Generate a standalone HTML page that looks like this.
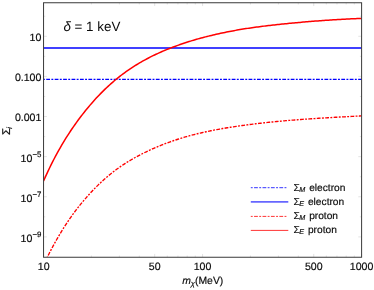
<!DOCTYPE html>
<html><head><meta charset="utf-8"><title>plot</title>
<style>
html,body{margin:0;padding:0;background:#fff;}
body{width:374px;height:290px;overflow:hidden;font-family:"Liberation Sans",sans-serif;}
svg{display:block;}
svg{will-change:transform;}
text{font-family:"Liberation Sans",sans-serif;fill:#0a0a0a;stroke:#0a0a0a;stroke-width:0.16px;stroke-linejoin:round;text-rendering:geometricPrecision;}
</style></head><body>
<svg width="374" height="290" viewBox="0 0 374 290">
<rect width="374" height="290" fill="#fff"/>
<g stroke="#dcdcdc" stroke-width="0.8" fill="none">
<line x1="43.55" y1="257.25" x2="43.55" y2="253.95"/>
<line x1="43.55" y1="2.75" x2="43.55" y2="6.05"/>
<line x1="91.42" y1="257.25" x2="91.42" y2="255.55"/>
<line x1="91.42" y1="2.75" x2="91.42" y2="4.45"/>
<line x1="119.42" y1="257.25" x2="119.42" y2="255.55"/>
<line x1="119.42" y1="2.75" x2="119.42" y2="4.45"/>
<line x1="139.29" y1="257.25" x2="139.29" y2="255.55"/>
<line x1="139.29" y1="2.75" x2="139.29" y2="4.45"/>
<line x1="154.70" y1="257.25" x2="154.70" y2="253.95"/>
<line x1="154.70" y1="2.75" x2="154.70" y2="6.05"/>
<line x1="167.30" y1="257.25" x2="167.30" y2="255.55"/>
<line x1="167.30" y1="2.75" x2="167.30" y2="4.45"/>
<line x1="177.94" y1="257.25" x2="177.94" y2="255.55"/>
<line x1="177.94" y1="2.75" x2="177.94" y2="4.45"/>
<line x1="187.16" y1="257.25" x2="187.16" y2="255.55"/>
<line x1="187.16" y1="2.75" x2="187.16" y2="4.45"/>
<line x1="195.30" y1="257.25" x2="195.30" y2="255.55"/>
<line x1="195.30" y1="2.75" x2="195.30" y2="4.45"/>
<line x1="202.57" y1="257.25" x2="202.57" y2="253.95"/>
<line x1="202.57" y1="2.75" x2="202.57" y2="6.05"/>
<line x1="250.45" y1="257.25" x2="250.45" y2="255.55"/>
<line x1="250.45" y1="2.75" x2="250.45" y2="4.45"/>
<line x1="278.45" y1="257.25" x2="278.45" y2="255.55"/>
<line x1="278.45" y1="2.75" x2="278.45" y2="4.45"/>
<line x1="298.32" y1="257.25" x2="298.32" y2="255.55"/>
<line x1="298.32" y1="2.75" x2="298.32" y2="4.45"/>
<line x1="313.73" y1="257.25" x2="313.73" y2="253.95"/>
<line x1="313.73" y1="2.75" x2="313.73" y2="6.05"/>
<line x1="326.32" y1="257.25" x2="326.32" y2="255.55"/>
<line x1="326.32" y1="2.75" x2="326.32" y2="4.45"/>
<line x1="336.97" y1="257.25" x2="336.97" y2="255.55"/>
<line x1="336.97" y1="2.75" x2="336.97" y2="4.45"/>
<line x1="346.19" y1="257.25" x2="346.19" y2="255.55"/>
<line x1="346.19" y1="2.75" x2="346.19" y2="4.45"/>
<line x1="354.32" y1="257.25" x2="354.32" y2="255.55"/>
<line x1="354.32" y1="2.75" x2="354.32" y2="4.45"/>
<line x1="361.60" y1="257.25" x2="361.60" y2="253.95"/>
<line x1="361.60" y1="2.75" x2="361.60" y2="6.05"/>
<line x1="43.55" y1="236.90" x2="46.849999999999994" y2="236.90"/>
<line x1="361.6" y1="236.90" x2="358.3" y2="236.90"/>
<line x1="43.55" y1="216.84" x2="45.25" y2="216.84"/>
<line x1="361.6" y1="216.84" x2="359.90000000000003" y2="216.84"/>
<line x1="43.55" y1="196.78" x2="46.849999999999994" y2="196.78"/>
<line x1="361.6" y1="196.78" x2="358.3" y2="196.78"/>
<line x1="43.55" y1="176.72" x2="45.25" y2="176.72"/>
<line x1="361.6" y1="176.72" x2="359.90000000000003" y2="176.72"/>
<line x1="43.55" y1="156.66" x2="46.849999999999994" y2="156.66"/>
<line x1="361.6" y1="156.66" x2="358.3" y2="156.66"/>
<line x1="43.55" y1="136.60" x2="45.25" y2="136.60"/>
<line x1="361.6" y1="136.60" x2="359.90000000000003" y2="136.60"/>
<line x1="43.55" y1="116.54" x2="46.849999999999994" y2="116.54"/>
<line x1="361.6" y1="116.54" x2="358.3" y2="116.54"/>
<line x1="43.55" y1="96.48" x2="45.25" y2="96.48"/>
<line x1="361.6" y1="96.48" x2="359.90000000000003" y2="96.48"/>
<line x1="43.55" y1="76.42" x2="46.849999999999994" y2="76.42"/>
<line x1="361.6" y1="76.42" x2="358.3" y2="76.42"/>
<line x1="43.55" y1="56.36" x2="45.25" y2="56.36"/>
<line x1="361.6" y1="56.36" x2="359.90000000000003" y2="56.36"/>
<line x1="43.55" y1="36.30" x2="46.849999999999994" y2="36.30"/>
<line x1="361.6" y1="36.30" x2="358.3" y2="36.30"/>
<line x1="43.55" y1="16.24" x2="45.25" y2="16.24"/>
<line x1="361.6" y1="16.24" x2="359.90000000000003" y2="16.24"/>
</g>
<clipPath id="c"><rect x="43.55" y="2.75" width="318.05" height="254.5"/></clipPath>
<g clip-path="url(#c)" fill="none" stroke-width="1.5">
<path d="M43.55,48.0 L361.6,48.0" stroke="#0000ff" stroke-width="1.6"/>
<path d="M43.55,79.4 L361.6,79.4" stroke="#0000ff" stroke-width="1.35" stroke-dasharray="3.8 1.36 1.9 1.37" stroke-dashoffset="5.75"/>
<path d="M43.55,180.99 L45.05,177.61 L46.55,174.32 L48.05,171.11 L49.55,167.97 L51.05,164.91 L52.55,161.93 L54.05,159.02 L55.55,156.17 L57.05,153.39 L58.55,150.68 L60.05,148.02 L61.55,145.43 L63.05,142.89 L64.55,140.41 L66.05,137.98 L67.55,135.61 L69.05,133.29 L70.55,131.01 L72.05,128.78 L73.55,126.60 L75.05,124.46 L76.55,122.36 L78.05,120.30 L79.55,118.28 L81.05,116.30 L82.55,114.35 L84.05,112.44 L85.55,110.56 L87.05,108.72 L88.55,106.91 L90.05,105.13 L91.55,103.39 L93.05,101.68 L94.55,100.00 L96.05,98.36 L97.55,96.75 L99.05,95.17 L100.55,93.62 L102.05,92.10 L103.55,90.62 L105.05,89.16 L106.55,87.73 L108.05,86.34 L109.55,84.97 L111.05,83.63 L112.55,82.32 L114.05,81.04 L115.55,79.78 L117.05,78.55 L118.55,77.35 L120.05,76.17 L121.55,75.02 L123.05,73.89 L124.55,72.78 L126.05,71.70 L127.55,70.65 L129.05,69.61 L130.55,68.60 L132.05,67.60 L133.55,66.63 L135.05,65.68 L136.55,64.75 L138.05,63.84 L139.55,62.95 L141.05,62.07 L142.55,61.22 L144.05,60.38 L145.55,59.56 L147.05,58.75 L148.55,57.97 L150.05,57.19 L151.55,56.44 L153.05,55.70 L154.55,54.97 L156.05,54.26 L157.55,53.56 L159.05,52.88 L160.55,52.21 L162.05,51.55 L163.55,50.91 L165.05,50.28 L166.55,49.66 L168.05,49.05 L169.55,48.46 L171.05,47.87 L172.55,47.30 L174.05,46.73 L175.55,46.18 L177.05,45.63 L178.55,45.10 L180.05,44.57 L181.55,44.05 L183.05,43.54 L184.55,43.04 L186.05,42.55 L187.55,42.06 L189.05,41.58 L190.55,41.11 L192.05,40.65 L193.55,40.20 L195.05,39.76 L196.55,39.32 L198.05,38.89 L199.55,38.48 L201.05,38.07 L202.55,37.66 L204.05,37.27 L205.55,36.89 L207.05,36.51 L208.55,36.13 L210.05,35.77 L211.55,35.40 L213.05,35.05 L214.55,34.70 L216.05,34.35 L217.55,34.01 L219.05,33.68 L220.55,33.35 L222.05,33.03 L223.55,32.71 L225.05,32.40 L226.55,32.09 L228.05,31.79 L229.55,31.49 L231.05,31.20 L232.55,30.92 L234.05,30.64 L235.55,30.37 L237.05,30.10 L238.55,29.84 L240.05,29.59 L241.55,29.33 L243.05,29.09 L244.55,28.85 L246.05,28.61 L247.55,28.38 L249.05,28.16 L250.55,27.94 L252.05,27.72 L253.55,27.51 L255.05,27.30 L256.55,27.09 L258.05,26.89 L259.55,26.70 L261.05,26.50 L262.55,26.31 L264.05,26.13 L265.55,25.94 L267.05,25.76 L268.55,25.59 L270.05,25.41 L271.55,25.24 L273.05,25.07 L274.55,24.90 L276.05,24.74 L277.55,24.58 L279.05,24.42 L280.55,24.26 L282.05,24.10 L283.55,23.95 L285.05,23.80 L286.55,23.65 L288.05,23.50 L289.55,23.35 L291.05,23.21 L292.55,23.06 L294.05,22.92 L295.55,22.78 L297.05,22.65 L298.55,22.51 L300.05,22.38 L301.55,22.24 L303.05,22.11 L304.55,21.98 L306.05,21.86 L307.55,21.73 L309.05,21.60 L310.55,21.48 L312.05,21.36 L313.55,21.24 L315.05,21.12 L316.55,21.01 L318.05,20.89 L319.55,20.78 L321.05,20.67 L322.55,20.56 L324.05,20.45 L325.55,20.34 L327.05,20.24 L328.55,20.14 L330.05,20.04 L331.55,19.94 L333.05,19.84 L334.55,19.75 L336.05,19.66 L337.55,19.57 L339.05,19.48 L340.55,19.39 L342.05,19.31 L343.55,19.23 L345.05,19.15 L346.55,19.07 L348.05,19.00 L349.55,18.93 L351.05,18.86 L352.55,18.79 L354.05,18.72 L355.55,18.66 L357.05,18.60 L358.55,18.55 L360.05,18.49 L361.55,18.44 L361.60,18.44" stroke="#ff0000" stroke-linejoin="round"/>
<path d="M47.30,257.16 L48.80,254.19 L50.30,251.28 L51.80,248.44 L53.30,245.66 L54.80,242.94 L56.30,240.27 L57.80,237.65 L59.30,235.09 L60.80,232.58 L62.30,230.12 L63.80,227.72 L65.30,225.38 L66.80,223.09 L68.30,220.86 L69.80,218.68 L71.30,216.54 L72.80,214.46 L74.30,212.42 L75.80,210.43 L77.30,208.47 L78.80,206.56 L80.30,204.69 L81.80,202.86 L83.30,201.06 L84.80,199.30 L86.30,197.57 L87.80,195.87 L89.30,194.21 L90.80,192.58 L92.30,190.98 L93.80,189.41 L95.30,187.87 L96.80,186.37 L98.30,184.89 L99.80,183.45 L101.30,182.04 L102.80,180.66 L104.30,179.30 L105.80,177.98 L107.30,176.69 L108.80,175.43 L110.30,174.20 L111.80,173.00 L113.30,171.82 L114.80,170.68 L116.30,169.56 L117.80,168.47 L119.30,167.40 L120.80,166.36 L122.30,165.35 L123.80,164.36 L125.30,163.39 L126.80,162.44 L128.30,161.51 L129.80,160.61 L131.30,159.72 L132.80,158.86 L134.30,158.01 L135.80,157.17 L137.30,156.36 L138.80,155.56 L140.30,154.77 L141.80,154.00 L143.30,153.24 L144.80,152.50 L146.30,151.77 L147.80,151.05 L149.30,150.35 L150.80,149.66 L152.30,148.98 L153.80,148.31 L155.30,147.66 L156.80,147.02 L158.30,146.39 L159.80,145.77 L161.30,145.17 L162.80,144.58 L164.30,143.99 L165.80,143.42 L167.30,142.87 L168.80,142.32 L170.30,141.78 L171.80,141.25 L173.30,140.74 L174.80,140.23 L176.30,139.74 L177.80,139.25 L179.30,138.78 L180.80,138.31 L182.30,137.85 L183.80,137.41 L185.30,136.97 L186.80,136.54 L188.30,136.12 L189.80,135.71 L191.30,135.31 L192.80,134.91 L194.30,134.53 L195.80,134.15 L197.30,133.78 L198.80,133.42 L200.30,133.06 L201.80,132.72 L203.30,132.38 L204.80,132.04 L206.30,131.72 L207.80,131.40 L209.30,131.08 L210.80,130.78 L212.30,130.48 L213.80,130.18 L215.30,129.89 L216.80,129.61 L218.30,129.33 L219.80,129.06 L221.30,128.79 L222.80,128.53 L224.30,128.28 L225.80,128.02 L227.30,127.78 L228.80,127.53 L230.30,127.29 L231.80,127.06 L233.30,126.83 L234.80,126.60 L236.30,126.38 L237.80,126.16 L239.30,125.94 L240.80,125.73 L242.30,125.52 L243.80,125.31 L245.30,125.11 L246.80,124.91 L248.30,124.71 L249.80,124.52 L251.30,124.33 L252.80,124.14 L254.30,123.95 L255.80,123.77 L257.30,123.59 L258.80,123.42 L260.30,123.25 L261.80,123.08 L263.30,122.91 L264.80,122.74 L266.30,122.58 L267.80,122.42 L269.30,122.27 L270.80,122.11 L272.30,121.96 L273.80,121.81 L275.30,121.66 L276.80,121.52 L278.30,121.38 L279.80,121.24 L281.30,121.10 L282.80,120.97 L284.30,120.83 L285.80,120.70 L287.30,120.57 L288.80,120.45 L290.30,120.32 L291.80,120.20 L293.30,120.08 L294.80,119.96 L296.30,119.84 L297.80,119.73 L299.30,119.61 L300.80,119.50 L302.30,119.39 L303.80,119.28 L305.30,119.17 L306.80,119.07 L308.30,118.96 L309.80,118.86 L311.30,118.76 L312.80,118.66 L314.30,118.56 L315.80,118.46 L317.30,118.37 L318.80,118.27 L320.30,118.18 L321.80,118.09 L323.30,117.99 L324.80,117.90 L326.30,117.81 L327.80,117.72 L329.30,117.64 L330.80,117.55 L332.30,117.46 L333.80,117.38 L335.30,117.29 L336.80,117.21 L338.30,117.12 L339.80,117.04 L341.30,116.96 L342.80,116.88 L344.30,116.80 L345.80,116.71 L347.30,116.63 L348.80,116.55 L350.30,116.47 L351.80,116.39 L353.30,116.31 L354.80,116.23 L356.30,116.15 L357.80,116.08 L359.30,116.00 L360.80,115.92 L361.60,115.87" stroke="#ff0000" stroke-width="1.35" stroke-dasharray="3.8 1.36 1.9 1.37" stroke-dashoffset="6.5" stroke-linejoin="round"/>
</g>
<rect x="43.55" y="2.75" width="318.05" height="254.5" fill="none" stroke="#3a3a3a" stroke-width="1"/>
<text x="41.4" y="41.20" text-anchor="end" font-size="10.6">10</text>
<text x="41.4" y="81.32" text-anchor="end" font-size="10.6">0.100</text>
<text x="41.4" y="121.44" text-anchor="end" font-size="10.6">0.001</text>
<text x="41.4" y="161.66" text-anchor="end" font-size="10.6">10<tspan dy="-4.6" font-size="7.9">−5</tspan></text>
<text x="41.4" y="201.78" text-anchor="end" font-size="10.6">10<tspan dy="-4.6" font-size="7.9">−7</tspan></text>
<text x="41.4" y="241.90" text-anchor="end" font-size="10.6">10<tspan dy="-4.6" font-size="7.9">−9</tspan></text>
<text x="43.75" y="269.5" text-anchor="middle" font-size="10.6">10</text>
<text x="154.70" y="269.5" text-anchor="middle" font-size="10.6">50</text>
<text x="202.57" y="269.5" text-anchor="middle" font-size="10.6">100</text>
<text x="313.73" y="269.5" text-anchor="middle" font-size="10.6">500</text>
<text x="361.60" y="269.5" text-anchor="middle" font-size="10.6">1000</text>
<text x="63.4" y="31.4" font-size="13.4" style="stroke:none"><tspan font-style="italic">δ</tspan> = 1 keV</text>
<text x="182.2" y="283.9" font-size="10.4"><tspan font-style="italic">m</tspan><tspan font-style="italic" font-size="7.6" dy="2.2">χ</tspan><tspan dy="-2.2">(MeV)</tspan></text>
<g transform="translate(9.7,134.9) rotate(-90)"><text x="0" y="0" font-size="11.3">Σ<tspan font-style="italic" font-size="7.6" dx="-0.9" dy="2.3">i</tspan></text></g>
<g fill="none" stroke-width="1">
<path d="M250.8,187.7 H286.7" stroke="#0000ff" stroke-dasharray="3.8 1.36 1.9 1.37" stroke-dashoffset="5.16" opacity="0.8"/>
<path d="M250.8,201.95 H288.3" stroke="#0000ff" stroke-width="1.7" opacity="0.6"/>
<path d="M250.8,216.4 H286.7" stroke="#ff0000" stroke-dasharray="3.8 1.36 1.9 1.37" stroke-dashoffset="5.16" opacity="0.8"/>
<path d="M250.8,230.4 H288.3" stroke="#ff0000" opacity="0.8"/>
</g>
<g font-size="10.2">
<text x="293.5" y="190.5">Σ<tspan font-style="italic" font-size="7.2" dx="-0.5" dy="1.4">M</tspan><tspan dx="1.0" dy="-1.4"> electron</tspan></text>
<text x="293.5" y="204.5">Σ<tspan font-style="italic" font-size="7.2" dx="-0.5" dy="1.4">E</tspan><tspan dx="1.0" dy="-1.4"> electron</tspan></text>
<text x="293.5" y="218.7">Σ<tspan font-style="italic" font-size="7.2" dx="-0.5" dy="1.4">M</tspan><tspan dx="1.0" dy="-1.4"> proton</tspan></text>
<text x="293.5" y="232.8">Σ<tspan font-style="italic" font-size="7.2" dx="-0.5" dy="1.4">E</tspan><tspan dx="1.0" dy="-1.4"> proton</tspan></text>
</g>
</svg>
</body></html>
